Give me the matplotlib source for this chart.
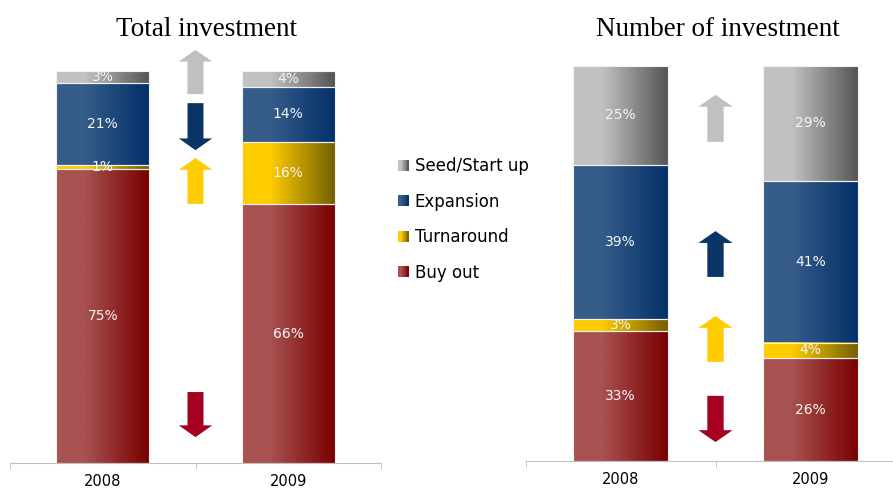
import numpy as np
import matplotlib
matplotlib.use('Agg')
import matplotlib.pyplot as plt
from matplotlib.colors import LinearSegmentedColormap
from matplotlib.patches import FancyArrow, Rectangle
from matplotlib.legend_handler import HandlerBase

plt.rcParams['font.family'] = ['DejaVu Sans']

# data
years = ['2008', '2009']
stages = ['Buy out', 'Turnaround', 'Expansion', 'Seed/Start up']
total_2008 = [75, 1, 21, 3]
total_2009 = [66, 16, 14, 4]
number_2008 = [33, 3, 39, 25]
number_2009 = [26, 4, 41, 29]

# gradient colours per stage (light left -> dark right), and arrow colours
grad_colors = {
    'Buy out': ('#A85252', '#7A0000'),
    'Turnaround': ('#FFCC00', '#736000'),
    'Expansion': ('#365D89', '#04306A'),
    'Seed/Start up': ('#C2C2C2', '#555555'),
}
arrow_colors = {
    'Buy out': '#A50021',
    'Turnaround': '#FFCC00',
    'Expansion': '#0B3566',
    'Seed/Start up': '#C0C0C0',
}

# arrow placement (tail/tip span in data units, one per stage)
total_arrow_span = {'Seed/Start up': (94.1, 105.4), 'Expansion': (79.8, 91.8),
                    'Turnaround': (66.1, 77.8), 'Buy out': (6.6, 18.1)}
number_arrow_span = {'Seed/Start up': (80.8, 92.7), 'Expansion': (46.6, 58.2),
                     'Turnaround': (25.1, 36.7), 'Buy out': (4.8, 16.5)}


def make_cmap(stage):
    light, dark = grad_colors[stage]
    return LinearSegmentedColormap.from_list(stage, [(0, light), (0.3, light), (1, dark)])


class GradHandle:
    def __init__(self, stage):
        self.stage = stage


class GradHandler(HandlerBase):
    def create_artists(self, legend, orig_handle, xdescent, ydescent, width, height, fontsize, trans):
        cmap = make_cmap(orig_handle.stage)
        n = 8
        arts = []
        for i in range(n):
            r = Rectangle((-xdescent + i * width / n, -ydescent), width / n + 0.3, height,
                          facecolor=cmap((i + 0.5) / n), edgecolor='none', transform=trans)
            arts.append(r)
        return arts


def stacked_panel(ax, vals_a, vals_b, arrow_span):
    x = np.arange(len(years))
    bottoms = np.zeros(len(years))
    for i, stage in enumerate(stages):
        vals = np.array([vals_a[i], vals_b[i]])
        bars = ax.bar(x, vals, 0.5, bottom=bottoms, facecolor='none',
                      edgecolor='#F2F2F2', linewidth=0.8, zorder=3)
        cmap = make_cmap(stage)
        for p in bars.patches:
            x0, y0, w, h = p.get_x(), p.get_y(), p.get_width(), p.get_height()
            ax.imshow(np.linspace(0, 1, 256)[None, :], cmap=cmap, aspect='auto',
                      extent=(x0, x0 + w, y0, y0 + h), zorder=2, interpolation='bilinear')
        for xi, v, b in zip(x, vals, bottoms):
            ax.text(xi, b + v / 2, f'{v}%', ha='center', va='center', color='#F5F5F5',
                    fontsize=10, zorder=4)
        # trend arrow between the two bars
        lo, hi = arrow_span[stage]
        if vals[1] >= vals[0]:
            start, dy = lo, hi - lo
        else:
            start, dy = hi, lo - hi
        ax.add_patch(FancyArrow(0.5, start, 0, dy, width=0.086, head_width=0.18,
                                head_length=3.0, length_includes_head=True,
                                color=arrow_colors[stage], linewidth=0, clip_on=False, zorder=3))
        bottoms = bottoms + vals

    ax.set_xlim(-0.5, 1.5)
    ax.set_ylim(0, 100)
    for s in ['top', 'left', 'right']:
        ax.spines[s].set_visible(False)
    ax.spines['bottom'].set_color('#BFBFBF')
    ax.set_yticks([])
    ax.set_xticks(x)
    ax.set_xticklabels(years, fontsize=10.5)
    ax.tick_params(axis='x', which='major', length=0, pad=8)
    ax.set_xticks([-0.5, 0.5, 1.5], minor=True)
    ax.tick_params(axis='x', which='minor', length=4, color='#BFBFBF', direction='out')


fig = plt.figure(figsize=(8.93, 4.88), dpi=100)
W, H = 893, 488
ax1 = fig.add_axes([10 / W, 25 / H, 371 / W, 392 / H])
ax2 = fig.add_axes([525.5 / W, 27 / H, 380 / W, 395 / H])

stacked_panel(ax1, total_2008, total_2009, total_arrow_span)
stacked_panel(ax2, number_2008, number_2009, number_arrow_span)

fig.text(206 / W, 1 - 30 / H, 'Total investment', ha='center', va='center',
         family='Liberation Serif', fontsize=19.5)
fig.text(718 / W, 1 - 30 / H, 'Number of investment', ha='center', va='center',
         family='Liberation Serif', fontsize=19.5)

legend_order = ['Seed/Start up', 'Expansion', 'Turnaround', 'Buy out']
fig.legend([GradHandle(s) for s in legend_order], legend_order,
           handler_map={GradHandle: GradHandler()},
           loc='center left', bbox_to_anchor=(398 / W, 1 - 219.5 / H),
           frameon=False, fontsize=12, handlelength=0.65, handleheight=0.65,
           handletextpad=0.35, labelspacing=1.05, borderpad=0, borderaxespad=0)

fig.savefig('out.png', dpi=100)
